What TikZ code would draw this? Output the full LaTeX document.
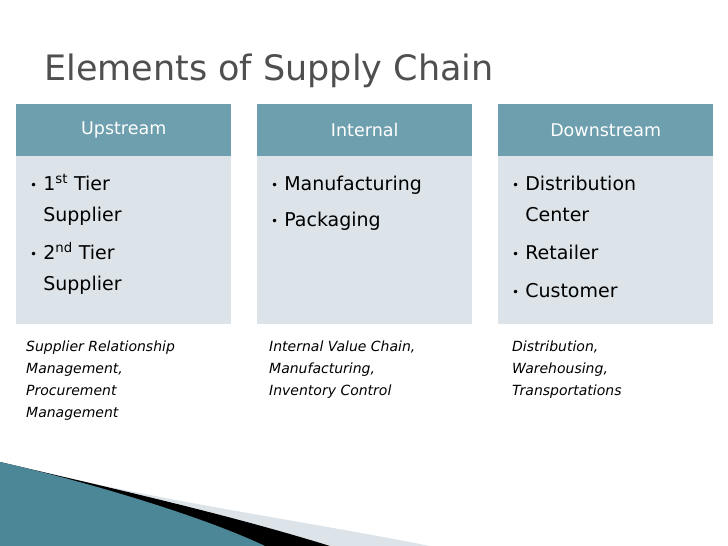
\documentclass[tikz,border=0pt]{standalone}
\usepackage{fontspec}
\setmainfont{DejaVu Sans}
\definecolor{hdr}{HTML}{6E9FAF}
\definecolor{bdy}{HTML}{DCE4E9}
\definecolor{ttl}{HTML}{4F4F4F}
\definecolor{teal}{HTML}{4C8797}
\definecolor{swl}{HTML}{DCE4E9}
\newcommand{\bul}{{\fontsize{12}{12}\selectfont\raisebox{1pt}{\textbullet}}\ }
\newcommand{\lns}[1]{\begin{tabular}[t]{@{}l@{}}#1\end{tabular}}
\begin{document}
\begin{tikzpicture}[x=1pt,y=-1pt,
  hbox/.style={fill=hdr,draw=none,minimum width=215pt,minimum height=52pt,anchor=north west,text=white,font=\fontsize{17.5}{20}\selectfont,inner sep=0pt},
  bbox/.style={fill=bdy,draw=none,minimum width=215pt,minimum height=168pt,anchor=north west,inner sep=0pt},
  btxt/.style={anchor=base west,font=\fontsize{19}{31}\selectfont,text=black,inner sep=0pt},
  note/.style={anchor=base west,font=\fontsize{14}{22}\selectfont\itshape,inner sep=0pt}]
\useasboundingbox (0,0) rectangle (728,546);
% swoosh
\fill[swl] (0,462) .. controls (150,500) and (300,520) .. (430,546) -- (0,546) -- cycle;
\fill[black] (0,462) .. controls (120,490) and (230,515) .. (330,546) -- (0,546) -- cycle;
\fill[teal] (0,462) .. controls (80,480) and (200,515) .. (265,546) -- (0,546) -- cycle;
\node[anchor=base west,text=ttl,font=\fontsize{35}{40}\selectfont,inner sep=0pt] (title) at (44,80) {Elements of Supply Chain};
\node[bbox] (b1) at (16,156) {};
\node[hbox] (h1) at (16,104) {Upstream};
\node[bbox] (b2) at (257,156) {};
\node[hbox] (h2) at (257,104) {Internal};
\node[bbox] (b3) at (498,156) {};
\node[hbox] (h3) at (498,104) {Downstream};
\node[btxt] (t1) at (30,190) {\lns{\bul 1\textsuperscript{st} Tier\\\phantom{\bul}Supplier\\[7pt]\bul 2\textsuperscript{nd} Tier\\\phantom{\bul}Supplier}};
\node[btxt] (t2) at (271,190) {\lns{\bul Manufacturing\\[5pt]\bul Packaging}};
\node[btxt] (t3) at (512,190) {\lns{\bul Distribution\\\phantom{\bul}Center\\[7pt]\bul Retailer\\[7pt]\bul Customer}};
\node[note] (n1) at (26,351) {\lns{Supplier Relationship\\Management,\\Procurement\\Management}};
\node[note] (n2) at (269,351) {\lns{Internal Value Chain,\\Manufacturing,\\Inventory Control}};
\node[note] (n3) at (512,351) {\lns{Distribution,\\Warehousing,\\Transportations}};
\end{tikzpicture}
\end{document}
